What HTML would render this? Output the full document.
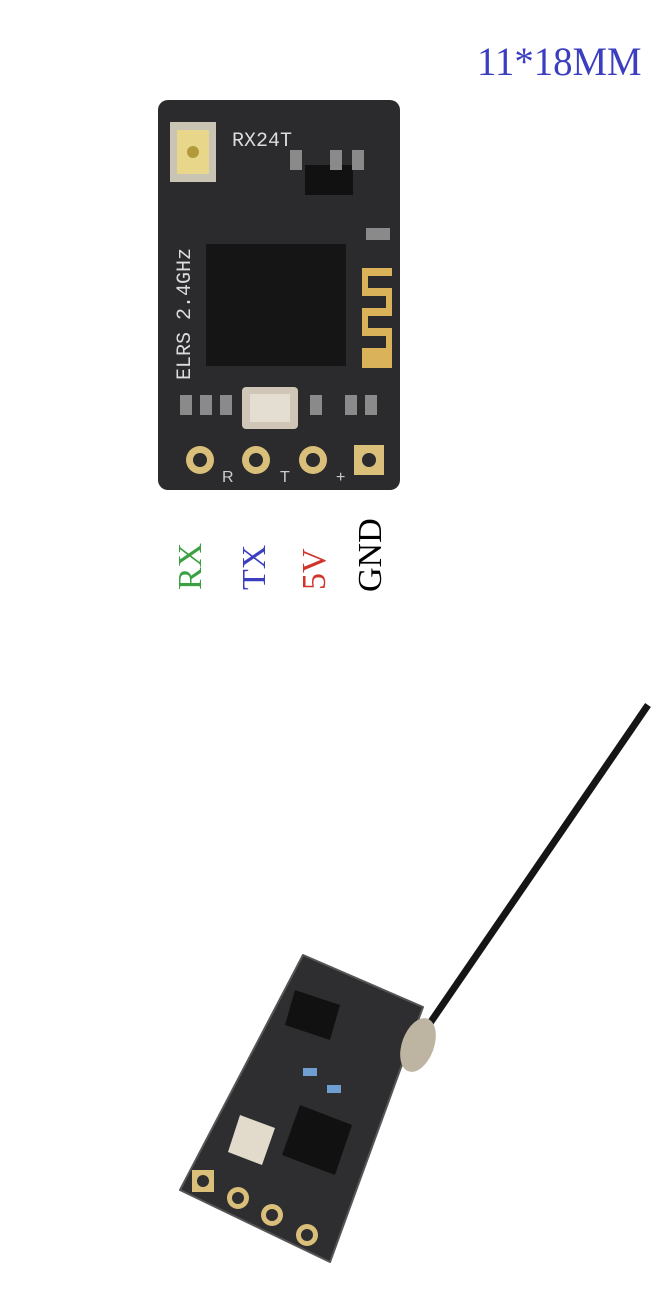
<!DOCTYPE html>
<html><head><style>
html,body{margin:0;padding:0;background:#fff;}
body{width:666px;height:1299px;position:relative;overflow:hidden;}
.t{position:absolute;font-family:"Liberation Serif",serif;}
</style></head><body>
<svg width="666" height="1299" style="position:absolute;left:0;top:0">
  <rect x="158" y="100" width="242" height="390" rx="10" fill="#2b2b2d"/>
  <rect x="170" y="122" width="46" height="60" fill="#c9c4b4"/>
  <rect x="177" y="130" width="32" height="44" fill="#e8d78a"/>
  <circle cx="193" cy="152" r="6" fill="#b29a3a"/>
  <text x="232" y="146" font-family="Liberation Mono,monospace" font-size="20" fill="#dcdcdc">RX24T</text>
  <rect x="305" y="165" width="48" height="30" fill="#111"/>
  <rect x="206" y="244" width="140" height="122" fill="#151516"/>
  <g fill="#d9b25a">
    <rect x="362" y="268" width="30" height="100"/>
  </g>
  <g fill="#2b2b2d">
    <rect x="368" y="276" width="24" height="12"/>
    <rect x="362" y="296" width="24" height="12"/>
    <rect x="368" y="316" width="24" height="12"/>
    <rect x="362" y="336" width="24" height="12"/>
  </g>
  <rect x="242" y="387" width="56" height="42" rx="4" fill="#cfc6b8"/>
  <rect x="250" y="394" width="40" height="28" fill="#e4ddd2"/>
  <g fill="#8a8a8a">
    <rect x="290" y="150" width="12" height="20"/><rect x="330" y="150" width="12" height="20"/><rect x="352" y="150" width="12" height="20"/>
    <rect x="366" y="228" width="24" height="12"/><rect x="180" y="395" width="12" height="20"/><rect x="200" y="395" width="12" height="20"/>
    <rect x="220" y="395" width="12" height="20"/><rect x="310" y="395" width="12" height="20"/><rect x="345" y="395" width="12" height="20"/><rect x="365" y="395" width="12" height="20"/>
  </g>
  <text transform="translate(190,380) rotate(-90)" font-family="Liberation Mono,monospace" font-size="20" fill="#dcdcdc">ELRS 2.4GHz</text>
  <g fill="#d9bf7a"><circle cx="200" cy="460" r="14"/><circle cx="256" cy="460" r="14"/><circle cx="313" cy="460" r="14"/><rect x="354" y="445" width="30" height="30"/></g>
  <g fill="#2b2b2d"><circle cx="200" cy="460" r="7"/><circle cx="256" cy="460" r="7"/><circle cx="313" cy="460" r="7"/><circle cx="369" cy="460" r="7"/></g>
  <g font-family="Liberation Sans,sans-serif" font-size="16" fill="#ccc"><text x="222" y="482">R</text><text x="280" y="482">T</text><text x="336" y="482">+</text></g>

  <path d="M415 1045 L648 705" stroke="#151515" stroke-width="7" fill="none"/>
  <polygon points="303,955 423,1007 330,1262 180,1190" fill="#2e2e31" stroke="#555" stroke-width="2" stroke-linejoin="round"/>
  <polygon points="295,990 340,1005 330,1040 285,1025" fill="#111"/>
  <polygon points="300,1105 352,1125 335,1175 282,1155" fill="#111"/>
  <polygon points="240,1115 275,1128 262,1165 228,1152" fill="#e2dbcc"/>
  <ellipse cx="418" cy="1045" rx="16" ry="28" transform="rotate(20 418 1045)" fill="#bdb4a2"/>
  <rect x="303" y="1068" width="14" height="8" fill="#6f9ed0"/><rect x="327" y="1085" width="14" height="8" fill="#6f9ed0"/>
  <rect x="192" y="1170" width="22" height="22" fill="#d9bf7a"/>
  <g fill="#d9bf7a"><circle cx="238" cy="1198" r="11"/><circle cx="272" cy="1215" r="11"/><circle cx="307" cy="1235" r="11"/></g>
  <g fill="#2e2e31"><circle cx="203" cy="1181" r="6"/><circle cx="238" cy="1198" r="6"/><circle cx="272" cy="1215" r="6"/><circle cx="307" cy="1235" r="6"/></g>
</svg>
<div class="t" style="left:477px;top:38px;font-size:40px;color:#3b3fbf;transform:scaleX(0.97);transform-origin:0 0;">11*18MM</div>
<div class="t" style="left:172px;top:590px;font-size:34px;color:#3aa040;transform:rotate(-90deg);transform-origin:0 0;">RX</div>
<div class="t" style="left:236px;top:590px;font-size:34px;color:#3b3fbf;transform:rotate(-90deg);transform-origin:0 0;">TX</div>
<div class="t" style="left:296px;top:590px;font-size:34px;color:#d0342c;transform:rotate(-90deg);transform-origin:0 0;">5V</div>
<div class="t" style="left:352px;top:592px;font-size:34px;color:#000;transform:rotate(-90deg);transform-origin:0 0;">GND</div>
</body></html>
